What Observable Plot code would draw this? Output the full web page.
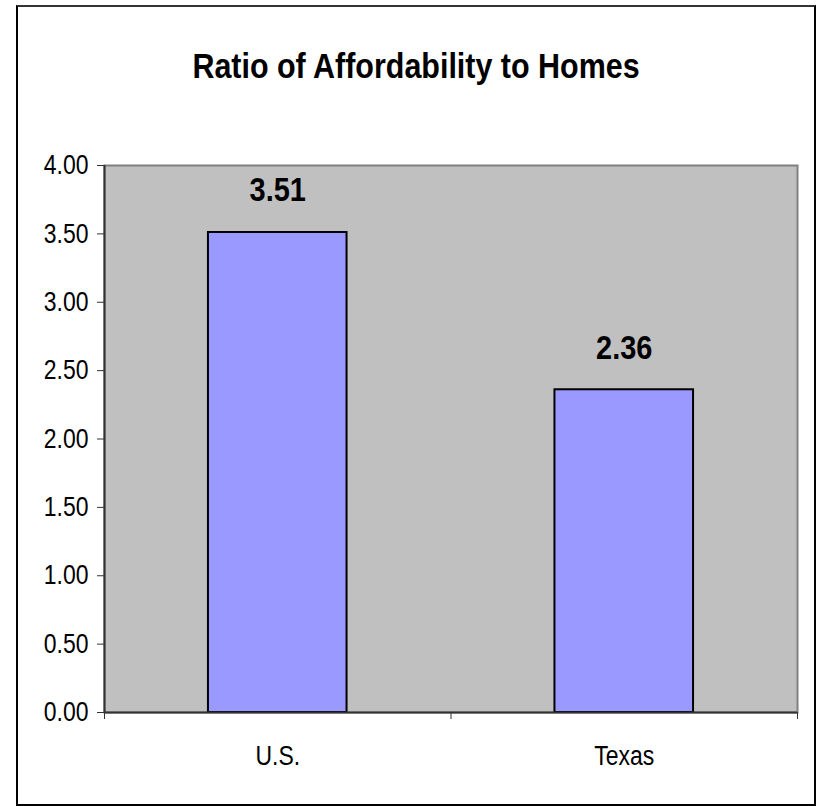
<!DOCTYPE html>
<html>
<head>
<meta charset="utf-8">
<script src="https://cdn.jsdelivr.net/npm/d3@7"></script>
<script src="https://cdn.jsdelivr.net/npm/@observablehq/plot@0.6"></script>
<style>
  html, body { margin: 0; padding: 0; background: #fff; }
  #wrap { position: relative; width: 819px; height: 806px; overflow: hidden; }
  #border { position: absolute; left: 16px; top: 5px; width: 800px; height: 801px; box-sizing: border-box; border: 2px solid #000; border-top-color: #333; }
  #title { position: absolute; left: 17px; width: 798px; top: 46px; text-align: center;
           font-family: 'Liberation Sans', Arial, sans-serif;
           font-weight: bold; font-size: 35px; line-height: 40px; color: #000;
           transform: scaleX(0.87); transform-origin: 50% 50%; }
  #chart { position: absolute; left: 0; top: 0; }
</style>
</head>
<body>
<div id="wrap">
  <div id="border"></div>
  <div id="title">Ratio of Affordability to Homes</div>
  <div id="chart"></div>
</div>
<script>
const categories = ["U.S.", "Texas"];
const values = [3.51, 2.36];
const yTicks = [0, 0.5, 1, 1.5, 2, 2.5, 3, 3.5, 4];

const data = categories.map((c, i) => ({category: c, value: values[i], idx: i}));
const font = "'Liberation Sans', Arial, sans-serif";

const plot = Plot.plot({
  width: 819,
  height: 806,
  marginLeft: 104,
  marginRight: 22,
  marginTop: 165,
  marginBottom: 94,
  style: {fontFamily: font, background: "transparent", color: "#000"},
  x: {domain: [0, categories.length], axis: null},
  y: {domain: [0, 4], axis: null},
  marks: [
    Plot.frame({fill: "#C0C0C0", stroke: "#808080", strokeWidth: 2}),
    Plot.rectY(data, {x1: d => d.idx + 0.3, x2: d => d.idx + 0.7, y1: 0, y2: "value", fill: "#9999FF", stroke: "#000", strokeWidth: 2}),
    Plot.ruleX([0], {stroke: "#333", strokeWidth: 2}),
    Plot.ruleY([0], {stroke: "#333", strokeWidth: 2}),
    Plot.axisY({ticks: yTicks, tickFormat: d3.format(".2f"), tickSize: 7, tickPadding: 9, fontSize: 27, stroke: "#333", label: null}),
    Plot.axisX({ticks: d3.range(categories.length + 1), tickFormat: () => "", tickSize: 7, stroke: "#333", label: null}),
    Plot.axisX({ticks: categories.map((c, i) => i + 0.5), tickFormat: t => categories[Math.round(t - 0.5)], tickSize: 0, tickPadding: 33, fontSize: 27, label: null}),
    Plot.text(data, {x: d => d.idx + 0.5, y: "value", text: d => d.value.toFixed(2), dy: -42, fontSize: 34, fontWeight: "bold", fill: "#000"})
  ]
});
document.getElementById("chart").appendChild(plot);
// condense text horizontally to mimic the narrow chart font
plot.querySelectorAll("text").forEach(el => {
  const w = el.getComputedTextLength();
  if (w > 0) {
    el.setAttribute("textLength", (w * 0.85).toFixed(1));
    el.setAttribute("lengthAdjust", "spacingAndGlyphs");
  }
});
</script>
</body>
</html>
